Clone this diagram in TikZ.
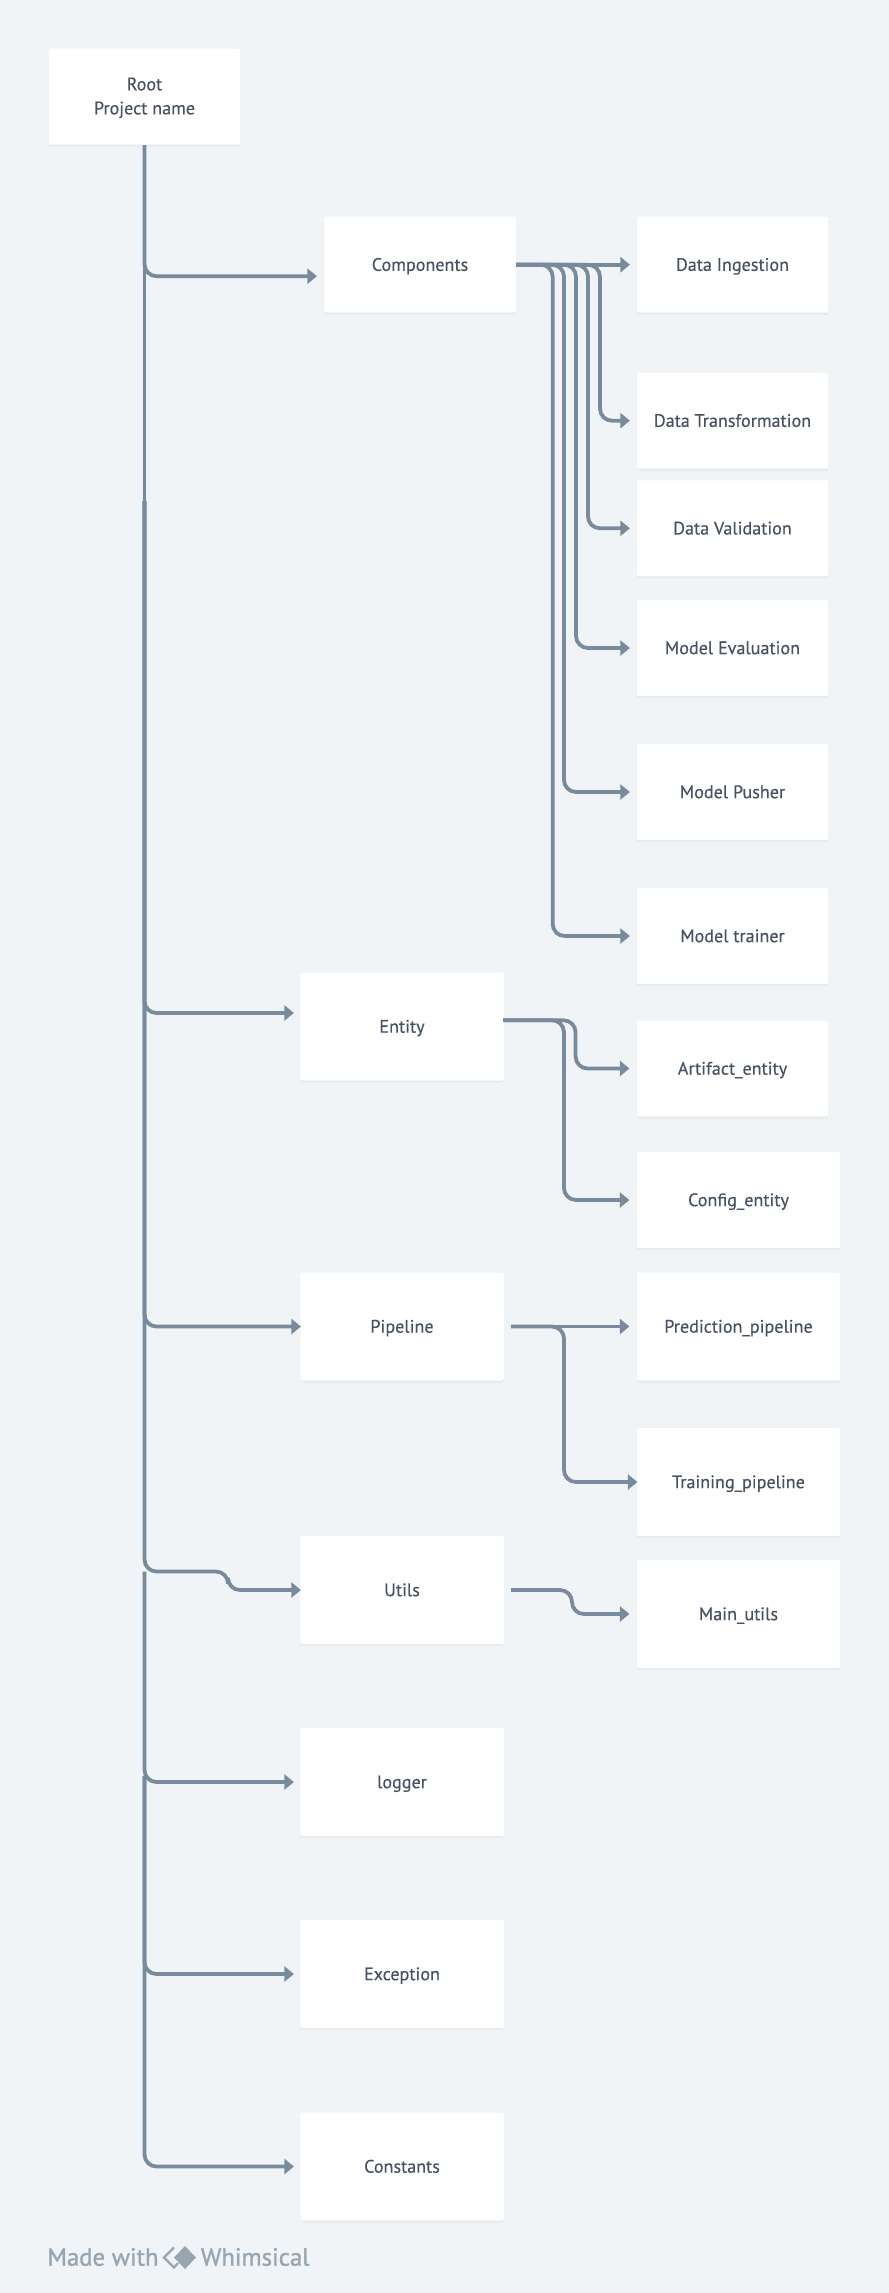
\documentclass[tikz,border=0pt]{standalone}
\usepackage{fontspec}
\setmainfont{PT Sans}
\newfontfamily\cardfont[FakeBold=0.25]{PT Sans}
\newfontfamily\stampfont[FakeBold=1.2]{PT Sans}
\usepackage{tikz}
\usetikzlibrary{arrows.meta,shadows}
\definecolor{Sheet}{HTML}{F0F4F7}
\definecolor{Wire}{HTML}{788A9B}
\definecolor{Ink}{HTML}{465161}
\definecolor{Stamp}{HTML}{98A6B2}
\tikzset{
  card/.style={fill=white,rounded corners=0.4mm,inner sep=0pt,text=Ink,align=center,
    font=\cardfont\fontsize{10.3}{13.66}\selectfont,
    drop shadow={shadow xshift=0mm,shadow yshift=-0.4mm,opacity=0.04,fill=black}},
  small/.style={card,minimum width=3.83cm,minimum height=1.92cm,text height=7.5pt,text depth=0.5pt},
  wide/.style={card,minimum width=4.07cm,minimum height=2.16cm,text height=7.5pt,text depth=0.5pt},
  wire/.style={draw=Wire,line width=0.75mm,rounded corners=2.4mm,-{Triangle[length=1.9mm,width=3mm]}},
  trunk/.style={draw=Wire,line width=0.75mm,rounded corners=2.4mm},
  stamp/.style={text=Stamp,font=\stampfont\fontsize{14.1}{15}\selectfont,inner sep=0pt}
}

\begin{document}
\begin{tikzpicture}[x=0.2mm,y=-0.2mm]
\useasboundingbox (0,0) rectangle (889,2293);
%%background
\fill[Sheet] (0,0) rectangle (889,2293);

%%left column
\node[card,minimum width=3.83cm,minimum height=1.92cm] (root) at (144.5,96.7) {\rule{0pt}{8.6pt}Root\\Project name};
\node[small] (comps) at (420,264.7) {Components};
\foreach \name/\ypos/\lbl in {
entity/1026.5/Entity,
pipe/1326.5/Pipeline,
utils/1590/Utils,
logger/1782/logger,
except/1974/Exception,
const/2166.5/Constants}
{\node[wide] (\name) at (402,\ypos) {\lbl};
}

%%right column
\foreach \name/\ypos/\lbl in {
ingest/264.7/Data Ingestion,
dtrans/420.7/Data Transformation,
dvalid/528.3/Data Validation,
meval/648/Model Evaluation,
mpush/792/Model Pusher,
mtrain/936/Model trainer,
artif/1068.5/Artifact\_entity}
{\node[small] (\name) at (732.5,\ypos) {\lbl};
}
\node[wide,minimum height=1.92cm] (config) at (738.5,1200) {Config\_entity};
\foreach \name/\ypos/\lbl in {
predict/1326.5/Prediction\_pipeline,
train/1482/Training\_pipeline,
mainu/1614/Main\_utils}
{\node[wide] (\name) at (738.5,\ypos) {\lbl};
}

%%trunk
\coordinate (midtop) at (144.5,501);
\coordinate (lowtop) at (144.5,1571.5);
\coordinate (endtop) at (144.5,1776);
\draw[trunk] (root.south) -- (midtop);
\draw[wire] (root.south) |- ([shift={(-7,11.5)}]comps.west);
\draw[wire] (midtop) |- ([shift={(-6,-13.5)}]entity.west);
\draw[wire] (midtop) |- ([xshift=0.2mm]pipe.west);
\draw[wire] (midtop) |- (228,1571.5) |- ([xshift=0.2mm]utils.west);
\draw[wire] (lowtop) |- ([xshift=-1.2mm]logger.west);
\draw[wire] (endtop) |- ([xshift=-1.2mm]except.west);
\draw[wire] (endtop) |- ([xshift=-1.2mm]const.west);

%%components
\draw[wire] (comps.east) -- ([xshift=-1.3mm]ingest.west);
\foreach \name/\xpos in {dtrans/600,dvalid/588,meval/576,mpush/564,mtrain/552.7}
{\draw[wire] (comps.east) -- (\xpos,264.7) |- ([xshift=-1.3mm]\name.west);
}

%%entity
\draw[wire] ([shift={(-1,-6.2)}]entity.east) -- (575.6,1020.3) |- ([xshift=-1.4mm]artif.west);
\draw[wire] ([shift={(-1,-6.2)}]entity.east) -- (564,1020.3) |- ([xshift=-1.4mm]config.west);

%%pipeline
\draw[wire] ([xshift=1.4mm]pipe.east) -- ([xshift=-1.4mm]predict.west);
\draw[wire] ([xshift=1.4mm]pipe.east) -- (564,1326.5) |- ([xshift=0.2mm]train.west);

%%utils
\draw[wire] ([xshift=1.4mm]utils.east) -- (572,1590) |- ([xshift=-1.4mm]mainu.west);

%%stamp
\node[stamp,anchor=west] (made) at (47,2257) {Made with};
\node[stamp,anchor=west] (whim) at (200.5,2257) {Whimsical};
\fill[Stamp] (185,2246) -- (196,2257.5) -- (185,2269) -- (174,2257.5) -- cycle;
\draw[Stamp,line width=0.45mm] (174,2247.5) -- (164,2257.5) -- (174,2267.5) -- (178,2263);
\end{tikzpicture}
\end{document}
